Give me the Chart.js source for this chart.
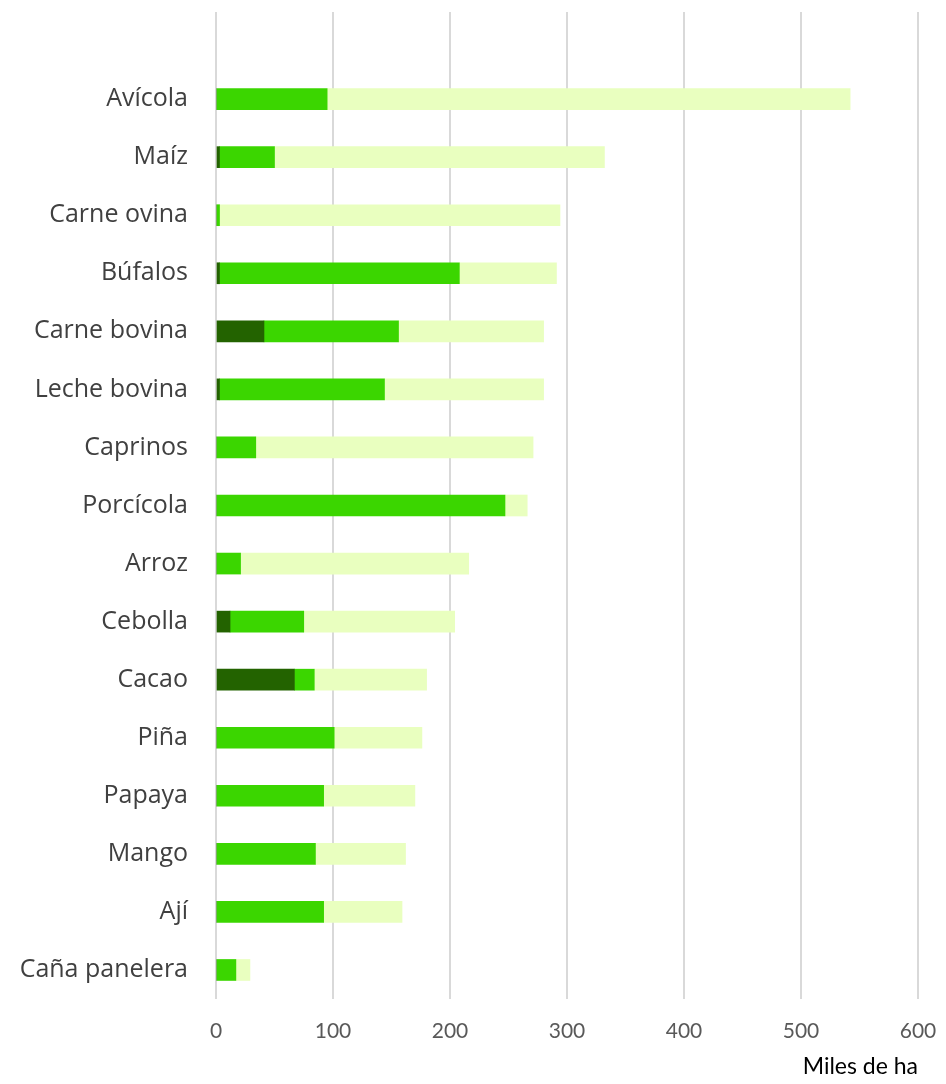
<!DOCTYPE html>
<html lang="es">
<head>
  <meta charset="UTF-8">
  <title>Miles de ha</title>
  <script src="https://cdn.jsdelivr.net/npm/chart.js"></script>
  <style>
    html, body { margin: 0; padding: 0; background: #fff; }
    #wrap { width: 946px; height: 1084px; }
  </style>
</head>
<body>
  <div id="wrap"><canvas id="chart"></canvas></div>
  <script>
    // first entry left empty: the original leaves one blank row at the top
    const categories = ['', 'Avícola', 'Maíz', 'Carne ovina', 'Búfalos', 'Carne bovina', 'Leche bovina', 'Caprinos',
      'Porcícola', 'Arroz', 'Cebolla', 'Cacao', 'Piña', 'Papaya', 'Mango', 'Ají', 'Caña panelera'];
    const darkValues  = [null, 0, 3, 0, 3, 41, 3, 0, 0, 0, 12, 67, 0, 0, 0, 0, 0];
    const greenValues = [null, 95, 47, 3, 205, 115, 141, 34, 247, 21, 63, 17, 101, 92, 85, 92, 17];
    const lightValues = [null, 447, 282, 291, 83, 124, 136, 237, 19, 195, 129, 96, 75, 78, 77, 67, 12];
    const xTicks = [0, 100, 200, 300, 400, 500, 600];

    const ctx = document.getElementById('chart').getContext('2d');
    new Chart(ctx, {
      type: 'bar',
      data: {
        labels: categories,
        datasets: [
          { label: 'a', data: darkValues, backgroundColor: '#236300', barThickness: 21 },
          { label: 'b', data: greenValues, backgroundColor: '#3bd600', barThickness: 21 },
          { label: 'c', data: lightValues, backgroundColor: '#e9ffbf', barThickness: 21 }
        ]
      },
      options: {
        indexAxis: 'y',
        responsive: true,
        maintainAspectRatio: false,
        animation: false,
        layout: { padding: { top: 12, right: 28, left: 0, bottom: 0 } },
        plugins: { legend: { display: false }, tooltip: { enabled: false } },
        scales: {
          x: {
            stacked: true,
            min: 0,
            max: 600,
            afterBuildTicks: s => { s.ticks = xTicks.map(v => ({ value: v })); },
            afterFit: s => { s.height = 85; s.paddingLeft = 0; s.paddingRight = 0; },
            border: { display: false },
            grid: { color: '#d9d9d9', lineWidth: 2, drawTicks: false },
            ticks: { color: '#595959', font: { family: 'Lato', size: 21 }, padding: 20 },
            title: {
              display: true, text: 'Miles de ha', align: 'end', color: '#000',
              font: { family: 'Lato', size: 23 }, padding: { top: 14 }
            }
          },
          y: {
            stacked: true,
            afterFit: s => { s.width = 216; s.paddingTop = 0; s.paddingBottom = 0; },
            border: { display: false },
            grid: { display: false },
            ticks: { color: '#404040', font: { family: 'Open Sans', size: 25 }, padding: 20 }
          }
        }
      }
    });
  </script>
</body>
</html>
